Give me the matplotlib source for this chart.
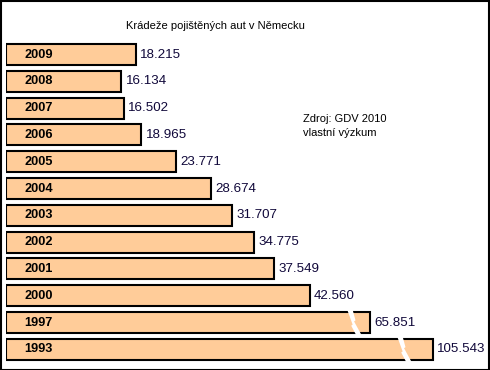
import matplotlib
matplotlib.use("Agg")
import matplotlib.pyplot as plt
from matplotlib.patches import Rectangle, Polygon

plt.rcParams['font.family'] = ['Liberation Sans', 'DejaVu Sans']

years = ['2009', '2008', '2007', '2006', '2005', '2004', '2003', '2002', '2001', '2000', '1997', '1993']
values = [18.215, 16.134, 16.502, 18.965, 23.771, 28.674, 31.707, 34.775, 37.549, 42.560, 65.851, 105.543]
# shown lengths (bars with a break are shortened)
shown = [18.215, 16.134, 16.502, 18.965, 23.771, 28.674, 31.707, 34.775, 37.549, 42.560, 51.0, 59.8]
broken = [False] * 10 + [True, True]
break_at = [None] * 10 + [47.8, 54.8]
value_labels = ['18.215', '16.134', '16.502', '18.965', '23.771', '28.674', '31.707', '34.775', '37.549', '42.560', '65.851', '105.543']

W, H = 490, 370
fig = plt.figure(figsize=(W / 100, H / 100), dpi=100)
px_per_unit = 7.14
left_px = 6
ax = fig.add_axes([left_px / W, 0, (W - left_px) / W, 1])
ax.set_xlim(0, (W - left_px) / px_per_unit)
row_px = 26.8
top_c = 54.5
ax.set_ylim((H - top_c) / row_px, -top_c / row_px)
ax.axis('off')

bar_h = 21 / row_px
for i, (y, s) in enumerate(zip(years, shown)):
    ax.barh(i, s, height=bar_h, left=0, color='#FFCC99', edgecolor='black', linewidth=1.5)
    ax.text(2.6, i, y, ha='left', va='center', fontsize=9.2, fontweight='bold', color='black')
    ax.text(s + 0.6, i, value_labels[i], ha='left', va='center', fontsize=9.6, color='#10083a')
    if broken[i]:
        b = break_at[i]
        t = i - bar_h / 2 - 0.08
        bt = i + bar_h / 2 + 0.08
        pts = [(b, t), (b + 0.75, t), (b + 1.15, i - 0.08), (b + 0.95, i - 0.04),
               (b + 2.0, bt), (b + 1.25, bt), (b + 0.55, i + 0.12), (b + 0.75, i + 0.08)]
        ax.add_patch(Polygon(pts, closed=True, facecolor='white', edgecolor='none', zorder=5))

fig.text(215 / W, 1 - 26 / H, 'Krádeže pojištěných aut v Německu', ha='center', va='center', fontsize=8)
fig.text(303 / W, 1 - 119 / H, 'Zdroj: GDV 2010', ha='left', va='center', fontsize=8)
fig.text(303 / W, 1 - 133 / H, 'vlastní výzkum', ha='left', va='center', fontsize=8)

fig.patches.append(Rectangle((0.5 / W, 0.5 / H), 1 - 1.5 / W, 1 - 1.5 / H, transform=fig.transFigure,
                             fill=False, edgecolor='black', linewidth=1.5))
fig.savefig('out.png', dpi=100)
